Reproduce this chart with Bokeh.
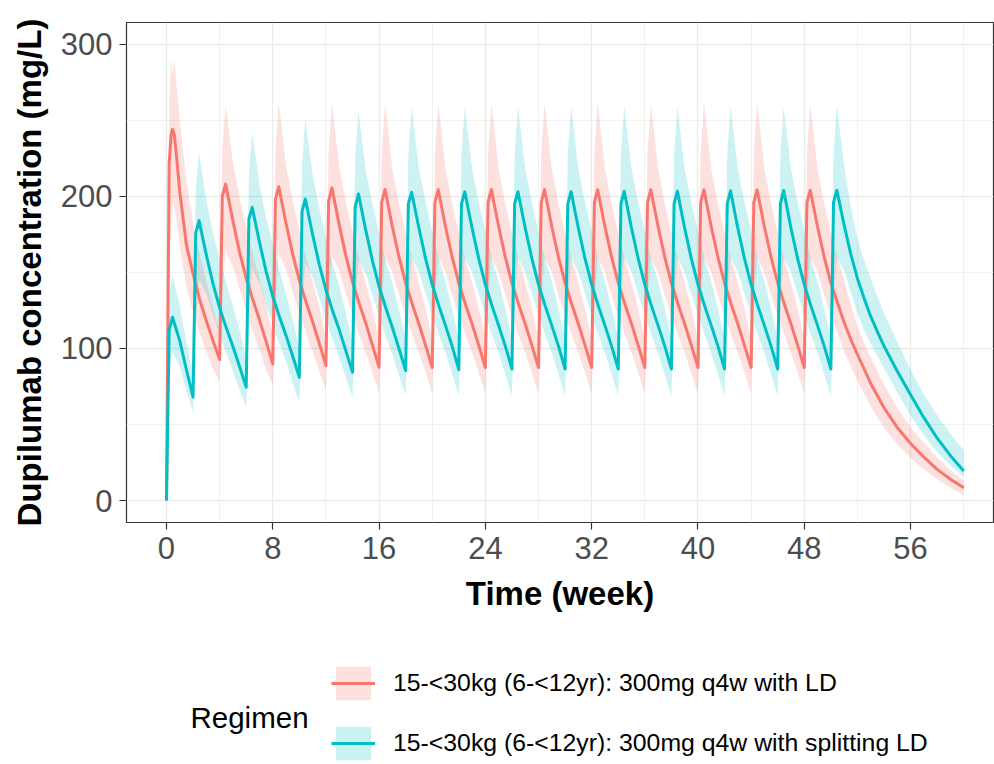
from bokeh.plotting import figure
from bokeh.layouts import column
from bokeh.models import Legend, LegendItem, Label, FixedTicker, Range1d, ColumnDataSource
from bokeh.embed import file_html
from bokeh.resources import INLINE

# ---------------- data ----------------
X_TICKS = [0, 8, 16, 24, 32, 40, 48, 56]
X_MINOR = [4, 12, 20, 28, 36, 44, 52, 60]
Y_TICKS = [0, 100, 200, 300]
Y_MINOR = [50, 150, 250]

LEGEND_TITLE = "Regimen"
RED_NAME = "15-<30kg (6-<12yr): 300mg q4w with LD"
TEAL_NAME = "15-<30kg (6-<12yr): 300mg q4w with splitting LD"

# Regimen 1: 300 mg q4w with loading dose (time in weeks; median, 5th and 95th percentile, mg/L)
RED_T = [
    [0, 0.2, 0.35, 0.45, 0.6, 0.8, 1, 1.5, 2, 2.5, 3, 3.5],
    [4, 4.2, 4.45, 5, 5.5, 6, 6.5, 7, 7.5],
    [8, 8.2, 8.45, 9, 9.5, 10, 10.5, 11, 11.5],
    [12, 12.2, 12.45, 13, 13.5, 14, 14.5, 15, 15.5],
    [16, 16.2, 16.45, 17, 17.5, 18, 18.5, 19, 19.5],
    [20, 20.2, 20.45, 21, 21.5, 22, 22.5, 23, 23.5],
    [24, 24.2, 24.45, 25, 25.5, 26, 26.5, 27, 27.5],
    [28, 28.2, 28.45, 29, 29.5, 30, 30.5, 31, 31.5],
    [32, 32.2, 32.45, 33, 33.5, 34, 34.5, 35, 35.5],
    [36, 36.2, 36.45, 37, 37.5, 38, 38.5, 39, 39.5],
    [40, 40.2, 40.45, 41, 41.5, 42, 42.5, 43, 43.5],
    [44, 44.2, 44.45, 45, 45.5, 46, 46.5, 47, 47.5],
    [48, 48.2, 48.45, 49, 49.5, 50, 50.5, 51, 51.5, 52, 53, 54, 55, 56, 57, 58, 59, 60],
]
RED_MED = [
    [0, 222, 240, 244, 240, 222, 203, 168, 149, 132, 118, 105],
    [92.7, 200, 208, 183.7, 163.3, 146.1, 131.9, 118.8, 104.5],
    [89.8, 198, 206.3, 182.1, 161.8, 144.7, 130.6, 117.5, 103.3],
    [88.7, 197, 205.5, 181.2, 160.9, 143.7, 129.6, 116.5, 102.2],
    [87.6, 196, 204.5, 180, 160, 143, 129, 116, 102],
    [87.5, 196, 204.5, 180, 160, 143, 129, 116, 102],
    [87.5, 196, 204.4, 180, 160, 143, 129, 116, 102],
    [87.5, 196, 204.4, 180, 160, 143, 129, 116, 102],
    [87.5, 196, 204.3, 180, 160, 143, 129, 116, 102],
    [87.5, 196, 204.3, 180, 160, 143, 129, 116, 102],
    [87.5, 196, 204.2, 180, 160, 143, 129, 116, 102],
    [87.5, 196, 204.2, 180, 160, 143, 129, 116, 102],
    [87.5, 196, 204, 180, 160, 143, 130, 117, 106, 96, 77, 61, 48, 37.5, 28.5, 20.5, 14, 8.4],
]
RED_LO = [
    [0, 150, 180, 195, 192, 182, 168, 140, 124, 110, 98, 87],
    [77.7, 135, 164, 154, 139, 124, 111, 99, 86],
    [75.6, 132, 162, 152, 137, 123, 110, 98, 85],
    [72.3, 131, 161, 151, 136, 122, 109, 97, 84],
    [71, 130, 160, 150, 135, 121, 109, 97, 84],
    [70, 130, 160, 150, 135, 121, 109, 97, 84],
    [70, 130, 160, 150, 135, 121, 109, 97, 84],
    [70, 130, 160, 150, 135, 121, 109, 97, 84],
    [70, 130, 160, 150, 135, 121, 109, 97, 84],
    [70, 130, 160, 150, 135, 121, 109, 97, 84],
    [70, 130, 160, 150, 135, 121, 109, 97, 84],
    [70, 130, 160, 150, 135, 121, 109, 97, 84],
    [70, 130, 160, 150, 135, 121, 110, 98, 88, 79, 62, 48, 37, 28, 20.5, 14, 8.5, 3.3],
]
RED_HI = [
    [0, 262, 290, 280, 289, 268, 250, 210, 182, 162, 144, 127],
    [110, 232, 260, 222, 199, 180, 162, 146, 129],
    [108, 230, 261.7, 220, 197, 178, 160, 144, 127],
    [107, 229, 261.7, 219, 196, 177, 159, 143, 126],
    [106, 228, 261.7, 218, 195, 176, 159, 143, 126],
    [106, 228, 261.7, 218, 195, 176, 159, 143, 126],
    [106, 228, 261.7, 218, 195, 176, 159, 143, 126],
    [106, 228, 261.7, 218, 195, 176, 159, 143, 126],
    [106, 228, 261.7, 218, 195, 176, 159, 143, 126],
    [106, 228, 261.7, 218, 195, 176, 159, 143, 126],
    [106, 228, 261.7, 218, 195, 176, 159, 143, 126],
    [106, 228, 261.7, 218, 195, 176, 159, 143, 126],
    [106, 228, 261, 218, 195, 176, 160, 145, 129, 114, 94, 76, 61, 48, 38, 28.5, 20, 13],
]

# Regimen 2: 300 mg q4w with splitting loading dose
TEAL_T = [
    [0, 0.2, 0.45, 1, 1.5],
    [2, 2.2, 2.45, 3, 3.5, 4, 4.5, 5, 5.5],
    [6, 6.2, 6.45, 7, 7.5, 8, 8.5, 9, 9.5],
    [10, 10.2, 10.45, 11, 11.5, 12, 12.5, 13, 13.5],
    [14, 14.2, 14.45, 15, 15.5, 16, 16.5, 17, 17.5],
    [18, 18.2, 18.45, 19, 19.5, 20, 20.5, 21, 21.5],
    [22, 22.2, 22.45, 23, 23.5, 24, 24.5, 25, 25.5],
    [26, 26.2, 26.45, 27, 27.5, 28, 28.5, 29, 29.5],
    [30, 30.2, 30.45, 31, 31.5, 32, 32.5, 33, 33.5],
    [34, 34.2, 34.45, 35, 35.5, 36, 36.5, 37, 37.5],
    [38, 38.2, 38.45, 39, 39.5, 40, 40.5, 41, 41.5],
    [42, 42.2, 42.45, 43, 43.5, 44, 44.5, 45, 45.5],
    [46, 46.2, 46.45, 47, 47.5, 48, 48.5, 49, 49.5],
    [50, 50.2, 50.45, 51, 51.5, 52, 52.5, 53, 53.5, 54, 55, 56, 57, 58, 59, 60],
]
TEAL_MED = [
    [0, 112, 120.5, 105, 86],
    [68, 176, 184, 161.4, 142.6, 126.6, 113.5, 101.3, 88.1],
    [74.5, 185, 192.7, 169.7, 150.5, 134.2, 120.8, 108.4, 94.9],
    [81, 190, 198.2, 174.7, 155.1, 138.5, 124.8, 112.2, 98.4],
    [84.3, 193, 201.5, 177.6, 157.6, 140.7, 126.7, 113.8, 99.8],
    [85.4, 195, 202.6, 179, 159, 142, 128, 115, 101.5],
    [86, 195, 203, 179, 159, 142, 128, 115, 101.5],
    [86.5, 195, 203, 179, 159, 142, 128, 115, 101.5],
    [86.5, 195, 203, 179, 159, 142, 128, 115, 101.5],
    [86.5, 195, 203.2, 179, 159, 142, 128, 115, 101.5],
    [86.5, 195, 203.4, 179, 159, 142, 128, 115, 101.5],
    [86.5, 195, 203.6, 179, 159, 142, 128, 115, 101.5],
    [86.5, 195, 203.8, 179, 159, 142, 128, 115, 101.5],
    [86.5, 196, 204, 181, 162, 146, 133, 121, 111, 101.5, 85, 69.5, 54.5, 41, 29.5, 19.5],
]
TEAL_LO = [
    [0, 80, 98, 88, 72],
    [58, 115, 145, 136, 122, 109, 97, 85, 73],
    [61, 122, 152, 143, 129, 115, 103, 91, 77],
    [64.6, 126, 156, 147, 133, 119, 106, 94, 81],
    [68, 128, 158, 149, 135, 121, 108, 96, 82],
    [69, 130, 160, 150, 136, 122, 109, 97, 83],
    [69, 130, 160, 150, 136, 122, 109, 97, 83],
    [69, 130, 160, 150, 136, 122, 109, 97, 83],
    [69, 130, 160, 150, 136, 122, 109, 97, 83],
    [69, 130, 160, 150, 136, 122, 109, 97, 83],
    [69, 130, 160, 150, 136, 122, 109, 97, 83],
    [69, 130, 160, 150, 136, 122, 109, 97, 83],
    [69, 130, 160, 150, 136, 122, 109, 97, 83],
    [69, 130, 160, 151, 137, 123, 112, 103, 95, 87, 71, 56, 43, 32, 23, 15.5],
]
TEAL_HI = [
    [0, 135, 148, 128, 104],
    [82, 205, 229, 197, 176, 159, 143, 128, 112],
    [93, 215, 242, 207, 186, 168, 151, 136, 119],
    [100, 222, 251, 214, 192, 173, 156, 141, 123],
    [104, 226, 256, 217, 195, 176, 158, 143, 125],
    [106, 228, 258.5, 218, 196, 177, 159, 144, 126],
    [106, 228, 259, 218, 196, 177, 159, 144, 126],
    [106, 228, 259, 218, 196, 177, 159, 144, 126],
    [106, 228, 259, 218, 196, 177, 159, 144, 126],
    [106, 228, 259, 218, 196, 177, 159, 144, 126],
    [106, 228, 259, 218, 196, 177, 159, 144, 126],
    [106, 228, 259, 218, 196, 177, 159, 144, 126],
    [106, 228, 259, 218, 196, 177, 159, 144, 126],
    [106, 228, 260, 220, 193, 172, 158, 146, 134, 123, 104, 86, 70, 56, 44, 33],
]

RED = "#F8766D"
TEAL = "#00BFC4"
FONT = "Liberation Sans"


def flat(rows):
    out = []
    for r in rows:
        out.extend(r)
    return out


red_src = ColumnDataSource(dict(t=flat(RED_T), med=flat(RED_MED), lo=flat(RED_LO), hi=flat(RED_HI)))
teal_src = ColumnDataSource(dict(t=flat(TEAL_T), med=flat(TEAL_MED), lo=flat(TEAL_LO), hi=flat(TEAL_HI)))

# ---------------- main figure ----------------
p = figure(width=994, height=640,
           x_range=Range1d(-3.01, 62.24), y_range=Range1d(-14.4, 314.2),
           output_backend="svg", toolbar_location=None,
           min_border_left=126, min_border_right=1, min_border_top=22, min_border_bottom=118)

p.background_fill_color = "white"
p.border_fill_color = "white"
p.outline_line_color = "#333333"
p.outline_line_width = 1.2

p.xaxis.ticker = FixedTicker(ticks=X_TICKS, minor_ticks=X_MINOR)
p.yaxis.ticker = FixedTicker(ticks=Y_TICKS, minor_ticks=Y_MINOR)

for g in (p.xgrid, p.ygrid):
    g.grid_line_color = "#EBEBEB"
    g.grid_line_width = 1.4
    g.minor_grid_line_color = "#EEEEEE"
    g.minor_grid_line_width = 0.8

for ax in (p.xaxis, p.yaxis):
    ax.axis_line_color = None
    ax.major_tick_line_color = "#333333"
    ax.major_tick_line_width = 1.2
    ax.major_tick_out = 7
    ax.major_tick_in = 0
    ax.minor_tick_line_color = None
    ax.major_label_text_font = FONT
    ax.major_label_text_font_size = "31px"
    ax.major_label_text_color = "#4D4D4D"
    ax.axis_label_text_font = FONT
    ax.axis_label_text_font_size = "33px"
    ax.axis_label_text_font_style = "bold"
    ax.axis_label_text_color = "black"

p.xaxis.axis_label = "Time (week)"
p.yaxis.axis_label = "Dupilumab concentration (mg/L)"
p.xaxis.major_label_standoff = 7
p.xaxis.axis_label_standoff = 13
p.yaxis.major_label_standoff = 7
p.yaxis.axis_label_standoff = 10

# ribbons first, then lines (as in the reference)
p.varea(x="t", y1="lo", y2="hi", source=red_src, fill_color=RED, fill_alpha=0.22)
p.varea(x="t", y1="lo", y2="hi", source=teal_src, fill_color=TEAL, fill_alpha=0.2)
p.line(x="t", y="med", source=red_src, line_color=RED, line_width=3, line_join="round")
p.line(x="t", y="med", source=teal_src, line_color=TEAL, line_width=3, line_join="round")

# ---------------- legend strip below the plot ----------------
# (its ranges lie outside the data, so the key renderers draw nothing but the legend keys)
lg = figure(width=994, height=124, x_range=Range1d(100, 101), y_range=Range1d(1000, 1001),
            x_axis_type=None, y_axis_type=None, output_backend="svg", toolbar_location=None,
            min_border=0, outline_line_color=None)
lg.background_fill_color = "white"
lg.border_fill_color = "white"
lg.xgrid.visible = False
lg.ygrid.visible = False
kr_band = lg.varea(x="t", y1="lo", y2="hi", source=red_src, fill_color=RED, fill_alpha=0.22)
kr_line = lg.line(x="t", y="med", source=red_src, line_color=RED, line_width=3)
kt_band = lg.varea(x="t", y1="lo", y2="hi", source=teal_src, fill_color=TEAL, fill_alpha=0.2)
kt_line = lg.line(x="t", y="med", source=teal_src, line_color=TEAL, line_width=3)

legend = Legend(items=[LegendItem(label=RED_NAME, renderers=[kr_band, kr_line]),
                       LegendItem(label=TEAL_NAME, renderers=[kt_band, kt_line])],
                location=(205, 0), orientation="vertical",
                glyph_width=44, glyph_height=42, spacing=18, padding=0, margin=0,
                border_line_color=None, background_fill_alpha=0,
                label_text_font=FONT, label_text_font_size="24.8px",
                label_standoff=18, label_text_color="black")
lg.add_layout(legend, "center")
lg.add_layout(Label(x=64, y=47, x_units="screen", y_units="screen", text=LEGEND_TITLE,
                    text_font=FONT, text_font_size="29.5px", text_baseline="middle",
                    text_color="black"))

open("out.html", "w").write(file_html(column(p, lg, spacing=0), INLINE))
